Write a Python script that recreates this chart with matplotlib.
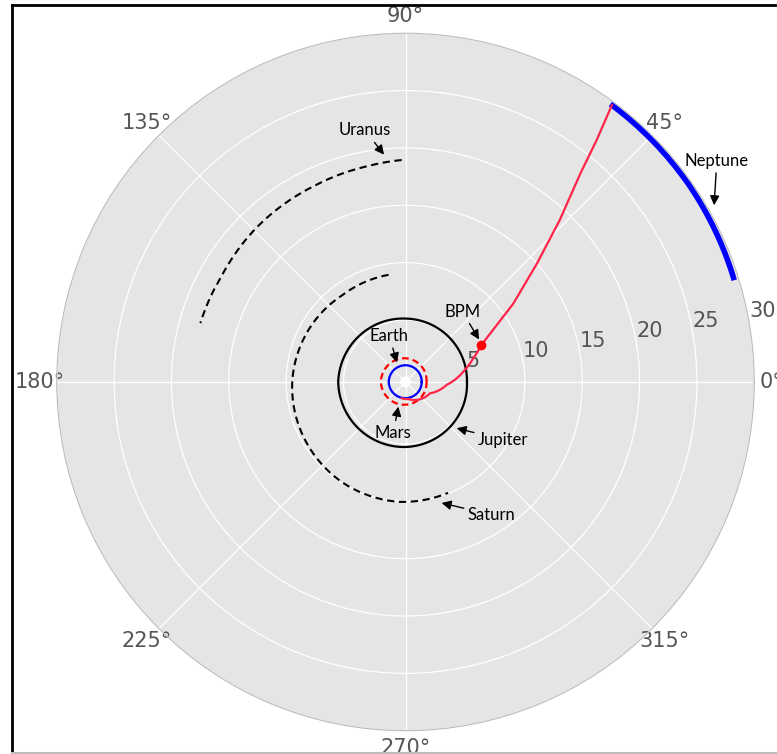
import numpy as np
import matplotlib
matplotlib.use("Agg")
import matplotlib.pyplot as plt
from matplotlib.lines import Line2D

plt.style.use("ggplot")

# orbits: angle (deg) and distance (AU)
earth_theta = [0, 90, 180, 270, 360]
earth_r = [1.0, 1.05, 1.05, 1.0, 1.0]

mars_theta = [0, 90, 180, 270, 360]
mars_r = [1.42, 1.66, 1.74, 1.57, 1.42]

jupiter_theta = [0, 90, 180, 270, 360]
jupiter_r = [4.95, 5.12, 5.46, 5.26, 4.95]

saturn_theta = [99, 126, 157, 180, 208, 238, 267, 291]
saturn_r = [9.05, 8.95, 9.24, 9.47, 9.69, 9.94, 10.06, 9.95]

uranus_theta = [91, 100, 115, 134, 150, 164]
uranus_r = [18.95, 18.7, 18.45, 18.3, 18.1, 18.2]

neptune_theta = [17.2, 35, 53.6]
neptune_r = [29.6, 29.7, 29.7]

# spacecraft trajectory
traj_theta = [-103, -80, -58, -25, -4, 10, 19, 25.8, 36, 42, 46.4, 50, 51.7, 53.3]
traj_r = [1.05, 1.1, 1.44, 1.94, 3.19, 4.7, 5.8, 6.9, 11.2, 15.0, 19.1, 23.3, 26.5, 29.7]

bpm_theta = 25.8
bpm_r = 6.9

rticks = [5, 10, 15, 20, 25, 30]

# labels: (text, arrow head theta, r, text theta, r)
labels = [
    ("Uranus", 95.4, 19.5, 99.1, 21.8),
    ("Neptune", 29.8, 30.6, 35.4, 32.9),
    ("Earth", 113.7, 1.45, 109.4, 3.84),
    ("Mars", 253.8, 1.83, 256.5, 4.13),
    ("Jupiter", -42.1, 5.6, -30.7, 9.5),
    ("Saturn", -73.4, 10.6, -57.0, 13.4),
    ("BPM", 30.0, 7.0, 51.1, 7.47),
]

fig = plt.figure(figsize=(7.77, 7.54), dpi=100)
fig.patch.set_facecolor("white")
ax = fig.add_axes([0.0731, 0.0309, 0.8976, 0.925], projection="polar")
ax.set_facecolor("#E5E5E5")

d = np.deg2rad
tt = d(np.array(traj_theta))
curved = []
curved += ax.plot(d(np.array(earth_theta)), earth_r, color="blue", lw=1.6)
curved += ax.plot(d(np.array(mars_theta)), mars_r, color="red", lw=1.6, ls=(0, (3, 1.8)))
curved += ax.plot(d(np.array(jupiter_theta)), jupiter_r, color="black", lw=1.6)
curved += ax.plot(d(np.array(saturn_theta)), saturn_r, color="black", lw=1.5, ls=(0, (3.5, 2.2)))
curved += ax.plot(d(np.array(uranus_theta)), uranus_r, color="black", lw=1.5, ls=(0, (3.5, 2.2)))
curved += ax.plot(d(np.array(neptune_theta)), neptune_r, color="blue", lw=4, solid_capstyle="butt")
# inner part of the trajectory curls round the sun, outer part is nearly straight
curved += ax.plot(tt[:8], traj_r[:8], color="#ff2448", lw=1.6)
ax.plot(tt[7:], traj_r[7:], color="#ff2448", lw=1.6)
# let the polar transform draw these segments as arcs
for ln in curved:
    ln.get_path()._interpolation_steps = 30
ax.plot(d(bpm_theta), bpm_r, "o", color="red", ms=6)

for txt, ht, hr, tx, tr in labels:
    ax.annotate(txt, xy=(d(ht), hr), xytext=(d(tx), tr), textcoords="data",
                ha="center", va="center", fontsize=12, family="Lato", color="black",
                annotation_clip=False,
                arrowprops=dict(arrowstyle="-|>", color="black", lw=1,
                                mutation_scale=14, shrinkA=1, shrinkB=0))

ax.set_rorigin(-0.41)
ax.set_rlim(0, 30)
ax.set_rticks(rticks)
ax.set_rlabel_position(10)
ax.set_thetagrids(np.arange(0, 360, 45))
ax.tick_params(axis="x", labelsize=15, colors="#555555", pad=2)
ax.tick_params(axis="y", labelsize=15, colors="#555555")
ax.grid(True, color="white", lw=0.9)
ax.spines["polar"].set_color("#BBBBBB")
ax.spines["polar"].set_linewidth(0.8)

# frame around the figure
fig.add_artist(Line2D([0.0151, 1.0], [0.9934, 0.9934], transform=fig.transFigure, color="black", lw=2))
fig.add_artist(Line2D([0.0151, 0.0151], [0.0, 0.9934], transform=fig.transFigure, color="black", lw=2))
fig.add_artist(Line2D([0.0151, 1.0], [0.0017, 0.0017], transform=fig.transFigure, color="#BBBBBB", lw=1.5))

fig.savefig("out.png", dpi=100)
